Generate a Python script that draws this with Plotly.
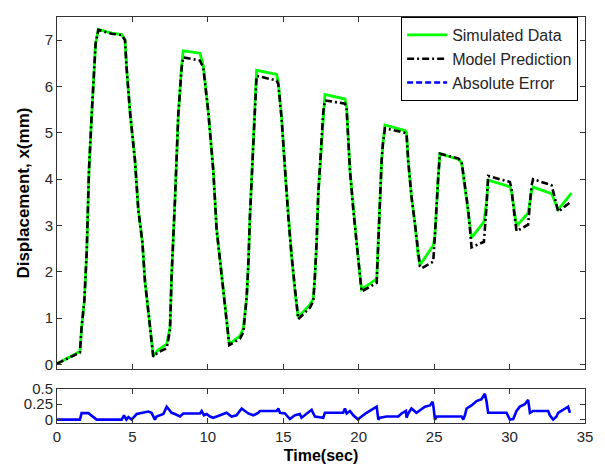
import plotly.graph_objects as go

# ---------------- data ----------------
time_s = [0, 1.52, 1.63, 1.81, 1.97, 2.12, 2.30, 2.41, 2.56, 2.74, 3.07, 3.62, 4.29, 4.51, 4.62,
          4.84, 5.17, 5.39, 5.66, 5.83, 6.05, 6.38, 6.71, 7.27, 7.49, 7.60, 7.82, 8.04, 8.26, 8.37,
          9.48, 9.70, 10.03, 10.36, 10.58, 10.80, 11.02, 11.42, 12.13, 12.35, 12.57, 12.68, 12.79,
          12.90, 13.01, 13.12, 13.23, 14.56, 14.67, 14.89, 15.11, 15.33, 15.55, 15.77, 15.99, 16.77,
          16.99, 17.10, 17.21, 17.32, 17.54, 17.65, 17.76, 19.09, 19.20, 19.42, 19.64, 19.86, 20.08,
          20.19, 21.19, 21.30, 21.40, 21.52, 21.60, 21.74, 23.06, 23.17, 23.28, 23.50, 23.72, 23.94,
          24.06, 24.17, 24.94, 25.05, 25.16, 25.27, 25.38, 26.59, 26.82, 27.04, 27.26, 27.48, 28.30,
          28.47, 28.58, 30.02, 30.13, 30.24, 30.46, 31.23, 31.35, 31.45, 31.56, 32.78, 33.00, 33.22,
          34.10]

simulated = [0.02, 0.28, 0.80, 1.37, 2.43, 4.19, 5.39, 5.95, 6.93, 7.23, 7.20, 7.15, 7.12, 7.00, 6.37,
             5.45, 4.40, 3.34, 2.64, 1.80, 1.16, 0.19, 0.32, 0.44, 0.80, 1.93, 3.55, 5.39, 6.45, 6.77,
             6.72, 6.44, 5.45, 4.19, 2.92, 2.28, 1.58, 0.44, 0.62, 0.78, 1.44, 2.14, 3.20,
             3.90, 4.75, 5.60, 6.35, 6.26, 6.09, 5.31, 4.19, 3.20, 2.35, 1.58, 1.02, 1.30,
             1.42, 1.93, 2.64, 3.69, 4.89, 5.45, 5.83, 5.73, 5.55, 4.19, 3.34, 2.64, 1.93,
             1.62, 1.85, 2.64, 3.69, 4.40, 4.75, 5.17, 5.05, 5.00, 4.40, 3.62, 3.06, 2.35,
             2.15, 2.20, 2.57, 2.78, 3.55, 4.04, 4.55, 4.43, 4.36, 3.83, 3.34, 2.74, 3.08,
             3.50, 3.98, 3.84, 3.73, 3.45, 2.99, 3.27, 3.50, 3.73, 3.83, 3.69, 3.52, 3.34,
             3.70]

model = [0.02, 0.26, 0.80, 1.37, 2.43, 4.19, 5.39, 5.95, 6.93, 7.22, 7.19, 7.14, 7.11, 7.00, 6.37,
         5.45, 4.40, 3.34, 2.64, 1.80, 1.16, 0.17, 0.27, 0.35, 0.74, 1.93, 3.55, 5.39, 6.40, 6.63,
         6.56, 6.40, 5.45, 4.19, 2.92, 2.28, 1.58, 0.42, 0.56, 0.70, 1.44, 2.14, 3.20,
         3.90, 4.75, 5.60, 6.23, 6.13, 6.05, 5.31, 4.19, 3.20, 2.35, 1.58, 0.98, 1.23,
         1.37, 1.93, 2.64, 3.69, 4.89, 5.45, 5.70, 5.63, 5.50, 4.19, 3.34, 2.64, 1.93,
         1.58, 1.76, 2.64, 3.69, 4.40, 4.75, 5.10, 5.00, 4.98, 4.40, 3.62, 3.06, 2.35,
         2.12, 2.08, 2.22, 2.78, 3.55, 4.04, 4.55, 4.45, 4.38, 3.83, 3.34, 2.53, 2.65,
         3.40, 4.07, 3.94, 3.80, 3.45, 2.88, 3.02, 3.40, 3.85, 4.00, 3.87, 3.60, 3.30,
         3.52]

err_time = [0, 1.52, 1.63, 2.08, 2.63, 4.29, 4.44, 4.60, 4.73, 4.95, 5.28, 5.72, 6.05, 6.27, 6.49,
            6.60, 7.05, 7.27, 7.38, 7.60, 7.82, 8.15, 8.37, 9.48, 9.59, 9.74, 9.92, 10.14, 10.36,
            10.80, 11.24, 11.57, 11.90, 12.24, 12.46, 12.68, 13.01, 13.34, 13.45, 14.56, 14.67,
            14.78, 15.11, 15.44, 15.77, 16.10, 16.21, 16.43, 16.88, 16.99, 17.10, 17.65, 17.76,
            18.97, 19.09, 19.20, 19.42, 19.64, 19.97, 20.08, 20.52, 21.19, 21.30, 21.41, 21.85,
            22.62, 22.84, 23.13, 23.17, 23.28, 23.50, 23.83, 24.17, 24.39, 24.72, 24.90, 24.97,
            25.05, 25.16, 26.82, 26.93, 27.04, 27.15, 27.48, 27.81, 28.14, 28.36, 28.47, 28.58,
            29.80, 30.02, 30.24, 30.46, 30.68, 31.01, 31.23, 31.35, 31.56, 32.56, 32.67, 32.89,
            33.11, 33.22, 33.55, 33.88, 34.00]

abs_error = [0, 0, 0.105, 0.105, 0, 0, 0.07, 0, 0.04, 0, 0.09, 0.11, 0.13, 0.11, 0,
             0.05, 0.09, 0.21, 0.18, 0.11, 0.09, 0.05, 0.10, 0.10, 0.14, 0.07, 0.09, 0.05, 0.03,
             0.07, 0.11, 0.05, 0.07, 0.18, 0.14, 0.10, 0.07, 0.11, 0.14, 0.14, 0.18,
             0.11, 0.10, 0.01, 0.07, 0.09, 0.03, 0.07, 0.16, 0.10, 0.05, 0.03, 0.11,
             0.11, 0.18, 0.10, 0.14, 0.07, 0.0, 0.03, 0.11, 0.21, 0.0, 0.03, 0.05,
             0.05, 0.10, 0.14, 0.03, 0.10, 0.18, 0.11, 0.18, 0.21, 0.23, 0.29, 0.18,
             0.0, 0.05, 0.05, 0.0, 0.07, 0.18, 0.23, 0.30, 0.33, 0.42, 0.30, 0.11,
             0.11, 0.0, 0.01, 0.14, 0.21, 0.25, 0.32, 0.11, 0.14, 0.14, 0.07, 0.0,
             0.05, 0.11, 0.16, 0.21, 0.11]

x_ticks = [0, 5, 10, 15, 20, 25, 30, 35]
y_ticks_main = [0, 1, 2, 3, 4, 5, 6, 7]
y_ticks_err = [0, 0.25, 0.5]
y_tick_err_labels = ["0", "0.25", "0.5"]

# ---------------- figure ----------------
FONT = "Liberation Sans, Arial, sans-serif"
AXC = "#333333"

fig = go.Figure()
fig.add_trace(go.Scatter(x=time_s, y=simulated, mode="lines", name="Simulated Data",
                         line=dict(color="#00ff00", width=2.8), xaxis="x", yaxis="y"))
fig.add_trace(go.Scatter(x=time_s, y=model, mode="lines", name="Model Prediction",
                         line=dict(color="black", width=2.6, dash="7px,3px,2px,3px"),
                         xaxis="x", yaxis="y"))
fig.add_trace(go.Scatter(x=err_time, y=abs_error, mode="lines", name="Absolute Error",
                         line=dict(color="#0000ff", width=2.6), showlegend=False,
                         xaxis="x2", yaxis="y2"))
# legend entry for the error (drawn dashed in the legend of the original)
fig.add_trace(go.Scatter(x=[None], y=[None], mode="lines", name="Absolute Error",
                         line=dict(color="#0000ff", width=2.6, dash="6px,3px"),
                         xaxis="x2", yaxis="y2"))

axis_common = dict(showgrid=False, zeroline=False, showline=True, linecolor=AXC, linewidth=1,
                   mirror="allticks", ticks="inside", ticklen=5, tickcolor=AXC, tickwidth=1,
                   tickfont=dict(family=FONT, size=15, color="#262626"))

fig.update_layout(
    width=605, height=470,
    margin=dict(l=57, r=20, t=8, b=47),
    paper_bgcolor="white", plot_bgcolor="white",
    font=dict(family=FONT, size=15, color="#262626"),
    xaxis=dict(range=[0, 35], tickvals=x_ticks, showticklabels=False, anchor="y",
               domain=[0, 1], **axis_common),
    yaxis=dict(range=[-0.1, 7.5], tickvals=y_ticks_main, anchor="x",
               domain=[0.1325, 1],
               title=dict(text="<b>Displacement, x(mm)</b>", font=dict(family=FONT, size=17, color="black"),
                          standoff=10),
               **axis_common),
    xaxis2=dict(range=[0, 35], tickvals=x_ticks, anchor="y2", domain=[0, 1],
                title=dict(text="<b>Time(sec)</b>", font=dict(family=FONT, size=16, color="black"),
                           standoff=5),
                **axis_common),
    yaxis2=dict(range=[-0.055, 0.5], tickvals=y_ticks_err, ticktext=y_tick_err_labels,
                anchor="x2", domain=[0, 0.0843], **axis_common),
    legend=dict(x=0.987, y=1.0, xanchor="right", yanchor="top",
                bgcolor="white", bordercolor="black", borderwidth=1,
                font=dict(family=FONT, size=16, color="#262626"),
                tracegroupgap=1, itemwidth=40),
    showlegend=True,
)

fig.write_html("out.html")
